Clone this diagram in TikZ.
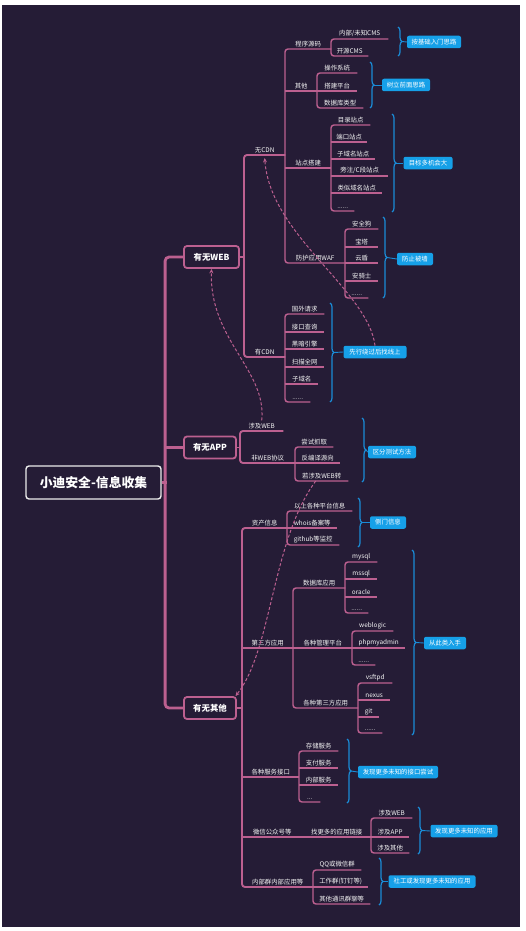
\documentclass[tikz,border=0pt]{standalone}
\usepackage{fontspec}
\setmainfont{Noto Sans CJK SC}
\usetikzlibrary{arrows.meta,decorations.pathreplacing}
\definecolor{bgc}{RGB}{37,28,54}
\definecolor{pk}{RGB}{188,96,144}
\definecolor{bl}{RGB}{26,140,215}
\definecolor{lbl}{RGB}{22,160,232}
\newcommand\smallfs{\fontsize{6.4}{7}\selectfont}
\newcommand\kidsgroup[2]{\draw[br,rounded corners=3pt] (#1.south east) -- (#1.south west) -- (#2.south west) -- (#2.south east);}
\newcommand\uline[1]{\draw[br] (#1.south west) -- (#1.south east);}
\begin{document}
\begin{tikzpicture}[x=1pt,y=-1pt,
  itm/.style={anchor=south west, inner xsep=0pt, inner ysep=2.2pt, minimum width=#1, text=white!92!gray, font=\smallfs},
  br/.style={draw=pk, line width=1.45pt},
  br2/.style={draw=pk, line width=1.9pt},
  spine/.style={draw=pk, line width=2.8pt},
  root/.style={draw=white!85!gray, line width=1.4pt, rounded corners=3pt, fill=bgc, minimum width=135pt, minimum height=33pt, text=white, font=\fontsize{12.8}{14}\selectfont\bfseries},
  lone/.style={draw=pk, line width=1.8pt, rounded corners=3pt, minimum width=#1, minimum height=22pt, text=white, font=\fontsize{8.4}{9}\selectfont\bfseries, inner sep=0pt},
  brc/.style={draw=bl, line width=1.2pt, decorate, decoration={brace, amplitude=4pt}},
  lb/.style={fill=lbl, rounded corners=2pt, text=white, font=\smallfs, inner sep=0pt, minimum height=12.5pt, minimum width=#1},
  tick/.style={draw=bl, line width=0.9pt},
  dsh/.style={draw=pk, line width=1pt, dash pattern=on 3pt off 2pt, -{Stealth[length=4.5pt,width=4pt]}}
]
\fill[white] (0,0) rectangle (526,931);
\fill[bgc] (2,5) rectangle (520,927);
\useasboundingbox (0,0) rectangle (526,931);

% root and level 1
\node[root] (R) at (93.5,482.5) {小迪安全-信息收集};
\node[lone=55] (W) at (211.5,257) {有无WEB};
\node[lone=52] (A) at (210,447.5) {有无APP};
\node[lone=52] (O) at (210,708) {有无其他};
\draw[spine,rounded corners=4pt] (W.west) -- ++(-18,0) |- (O.west);
\draw[spine] (R.east) -- ++(5,0);
\draw[spine] (A.west) -- ++(-18,0);

% ===== 有无WEB =====
\node[itm=41] (n1) at (244,155) {无CDN};
\node[itm=41] (n2) at (244,357) {有CDN};
\draw[br2] (W.east) -- (W.east -| n1.south west);
\draw[br2,rounded corners=3pt] (n1.south east) -- (n1.south west) -- (n2.south west) -- (n2.south east);

\node[itm=46] (a1) at (285,49) {程序源码};
\node[itm=32] (a2) at (285,91) {其他};
\node[itm=46] (a3) at (285,168) {站点搭建};
\node[itm=60] (a4) at (285,263) {防护应用WAF};
\kidsgroup{a1}{a4}
\uline{a2}\uline{a3}

\node[itm=57] (a11) at (331,39) {内部/未知CMS};
\node[itm=37] (a12) at (331,56) {开源CMS};
\kidsgroup{a11}{a12}

\node[itm=40] (a21) at (317,73) {操作系统};
\node[itm=40] (a22) at (317,91) {搭建平台};
\node[itm=46] (a23) at (317,108) {数据库类型};
\kidsgroup{a21}{a23}
\uline{a22}

\node[itm=39] (a31) at (331,125) {目录站点};
\node[itm=36] (a32) at (331,142) {端口站点};
\node[itm=44] (a33) at (331,159) {子域名站点};
\node[itm=57] (a34) at (331,176) {旁注/C段站点};
\node[itm=51] (a35) at (331,193) {类似域名站点};
\node[itm=23] (a36) at (331,211) {......};
\kidsgroup{a31}{a36}
\uline{a32}\uline{a33}\uline{a34}\uline{a35}

\node[itm=33] (a41) at (345,229) {安全狗};
\node[itm=33] (a42) at (345,247) {宝塔};
\node[itm=33] (a43) at (345,263) {云盾};
\node[itm=33] (a44) at (345,281) {安骑士};
\node[itm=23] (a45) at (345,298) {......};
\kidsgroup{a41}{a45}
\uline{a42}\uline{a43}\uline{a44}

\node[itm=39] (b1) at (285,314) {国外请求};
\node[itm=39] (b2) at (285,332) {接口查询};
\node[itm=39] (b3) at (285,349) {黑暗引擎};
\node[itm=39] (b4) at (285,367) {扫描全网};
\node[itm=33] (b5) at (285,384) {子域名};
\node[itm=25] (b6) at (285,402) {......};
\kidsgroup{b1}{b6}
\uline{b2}\uline{b3}\uline{b4}\uline{b5}

% braces and labels, WEB
\draw[brc] (398,27) -- (398,56);
\coordinate (t1) at (402,41.5);
\node[lb=54] (L1) at (434,42) {按基础入门思路};
\draw[tick] (t1) -- (L1.west);

\draw[brc] (370,62) -- (370,108);
\coordinate (t2) at (374,85);
\node[lb=48] (L2) at (406,85) {树立前面思路};
\draw[tick] (t2) -- (L2.west);

\draw[brc] (392,114) -- (392,212);
\coordinate (t3) at (396,163);
\node[lb=49] (L3) at (428,163) {目标多机会大};
\draw[tick] (t3) -- (L3.west);

\draw[brc] (383,217) -- (383,298);
\coordinate (t4) at (387,257.5);
\node[lb=36] (L4) at (415,259) {防止被墙};
\draw[tick] (t4) -- (L4.west);

\draw[brc] (330,303) -- (330,402);
\coordinate (t5) at (334,352.5);
\node[lb=63] (L5) at (375,352) {先行绕过后找线上};
\draw[tick] (t5) -- (L5.west);

% ===== 有无APP =====
\node[itm=43] (c1) at (240,431) {涉及WEB};
\node[itm=55] (c2) at (240,463) {非WEB协议};
\draw[br2] (A.east) -- (A.east -| c1.south west);
\draw[br2,rounded corners=3pt] (c1.south east) -- (c1.south west) -- (c2.south west) -- (c2.south east);
\node[itm=38] (c21) at (295,447) {尝试抓取};
\node[itm=45] (c22) at (295,463) {反编译源向};
\node[itm=53] (c23) at (295,481) {若涉及WEB转};
\kidsgroup{c21}{c23}
\uline{c22}
\draw[brc] (362,418) -- (362,482);
\coordinate (t6) at (366,450);
\node[lb=48] (L6) at (392,452) {区分测试方法};
\draw[tick] (t6) -- (L6.west);

% ===== 有无其他 =====
\node[itm=45] (d1) at (242,528) {资产信息};
\node[itm=51] (d2) at (242,648) {第三方应用};
\node[itm=57] (d3) at (242,777) {各种服务接口};
\node[itm=60] (d4) at (242,837) {微信公众号等};
\node[itm=71] (d5) at (242,887) {内部群内部应用等};
\draw[br2] (O.east) -- (O.east -| d1.south west);
\draw[br2,rounded corners=3pt] (d1.south east) -- (d1.south west) -- (d5.south west) -- (d5.south east);
\uline{d2}\uline{d3}\uline{d4}

\node[itm=65] (d11) at (287,511) {以上各种平台信息};
\node[itm=50] (d12) at (287,528) {whois备案等};
\node[itm=52] (d13) at (287,545) {github等监控};
\kidsgroup{d11}{d13}
\uline{d12}
\draw[brc] (358,498) -- (358,547);
\coordinate (t7) at (362,522.5);
\node[lb=36] (L7) at (388,522.5) {侧门信息};
\draw[tick] (t7) -- (L7.west);

\node[itm=52] (e1) at (293,588) {数据库应用};
\node[itm=59] (e2) at (293,648) {各种管理平台};
\node[itm=65] (e3) at (293,708) {各种第三方应用};
\kidsgroup{e1}{e3}
\uline{e2}
\node[itm=32] (e11) at (345,562) {mysql};
\node[itm=32] (e12) at (345,579) {mssql};
\node[itm=32] (e13) at (345,597) {oracle};
\node[itm=23] (e14) at (345,613) {......};
\kidsgroup{e11}{e14}
\uline{e12}\uline{e13}
\node[itm=41] (e21) at (352,631) {weblogic};
\node[itm=53] (e22) at (352,648) {phpmyadmin};
\node[itm=23] (e23) at (352,665) {......};
\kidsgroup{e21}{e23}
\uline{e22}
\node[itm=34] (e31) at (358,683) {vsftpd};
\node[itm=32] (e32) at (358,700) {nexus};
\node[itm=21] (e33) at (358,717) {git};
\node[itm=24] (e34) at (358,733) {......};
\kidsgroup{e31}{e34}
\uline{e32}\uline{e33}
\draw[brc] (412,550) -- (412,735);
\coordinate (t8) at (416,642.5);
\node[lb=42] (L8) at (445,643) {从此类入手};
\draw[tick] (t8) -- (L8.west);

\node[itm=39] (g1) at (299,751) {存储服务};
\node[itm=39] (g2) at (299,768) {支付服务};
\node[itm=39] (g3) at (299,785) {内部服务};
\node[itm=21] (g4) at (299,802) {...};
\kidsgroup{g1}{g4}
\uline{g2}\uline{g3}
\draw[brc] (347,739) -- (347,803);
\coordinate (t9) at (351,771);
\node[lb=80] (L9) at (398,772) {发现更多未知的接口尝试};
\draw[tick] (t9) -- (L9.west);

\node[itm=69] (f1) at (302,837) {找更多的应用链接};
\uline{f1}
\node[itm=41] (f11) at (371,818) {涉及WEB};
\node[itm=38] (f12) at (371,837) {涉及APP};
\node[itm=38] (f13) at (371,853) {涉及其他};
\kidsgroup{f11}{f13}
\uline{f12}
\draw[brc] (418,807) -- (418,854);
\coordinate (t10) at (422,830.5);
\node[lb=67] (L10) at (464,831) {发现更多未知的应用};
\draw[tick] (t10) -- (L10.west);

\node[itm=48] (h1) at (313,870) {QQ或微信群};
\node[itm=55] (h2) at (313,887) {工作群(钉钉等)};
\node[itm=57] (h3) at (313,904) {其他通讯群聊等};
\kidsgroup{h1}{h3}
\uline{h2}
\draw[brc] (379,858) -- (379,905);
\coordinate (t11) at (383,881.5);
\node[lb=87] (L11) at (432,881.5) {社工或发现更多未知的应用};
\draw[tick] (t11) -- (L11.west);

% dashed cross links
\draw[dsh] (L5.north) .. controls (368,290) and (270,235) .. ([yshift=-3pt]n1.south);
\draw[dsh] (c1.north) .. controls (267,370) and (209,340) .. (W.south);
\draw[dsh] ([xshift=-6pt]c23.south) .. controls (272,540) and (272,650) .. (O.25);
\end{tikzpicture}
\end{document}
